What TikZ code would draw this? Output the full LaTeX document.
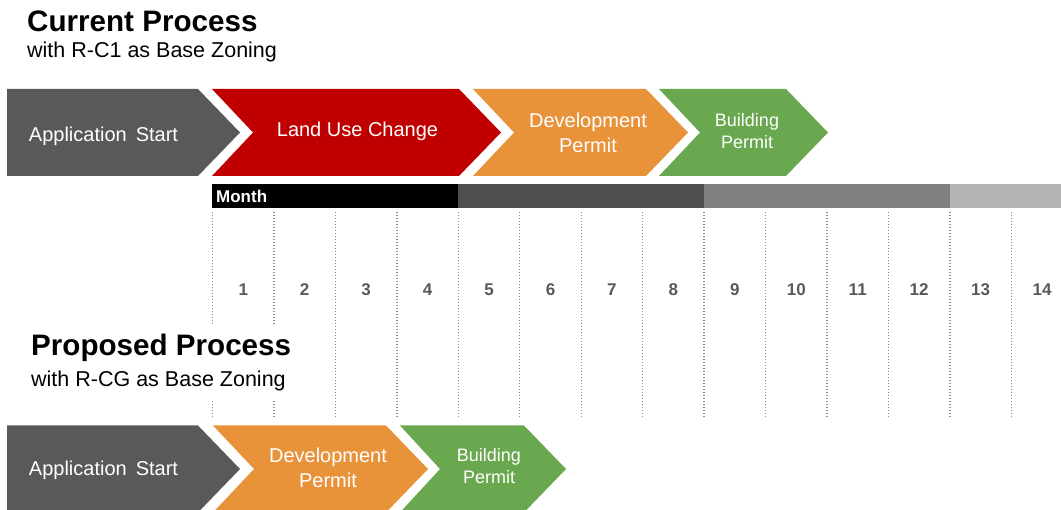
\documentclass[tikz,border=0pt]{standalone}
\usepackage{fontspec}
\setmainfont{Liberation Sans}
\usetikzlibrary{backgrounds}
\usetikzlibrary{fit}
\definecolor{startgray}{HTML}{595959}
\definecolor{lucred}{HTML}{C00000}
\definecolor{devorange}{HTML}{E8923A}
\definecolor{bpgreen}{HTML}{6AA84F}
\definecolor{bardark}{HTML}{4F4F4F}
\definecolor{barmid}{HTML}{808080}
\definecolor{barlight}{HTML}{B3B3B3}
\tikzset{heading/.style={font=\fontsize{29.6}{34}\selectfont\bfseries, anchor=base west, inner sep=0pt}}
\tikzset{subheading/.style={font=\fontsize{21.5}{25}\selectfont, anchor=base west, inner sep=0pt}}
\tikzset{chevtext/.style={text=white, font=\fontsize{20}{25}\selectfont, align=center, inner sep=0pt}}
\tikzset{chevsmall/.style={chevtext, font=\fontsize{18}{22}\selectfont}}
\tikzset{monthnum/.style={text=startgray, font=\fontsize{17}{20}\selectfont\bfseries, inner sep=0pt}}
\tikzset{gridline/.style={draw=black!45, line width=1.3pt, dash pattern=on 1.3pt off 1.7pt}}
% colour, left x, notch depth, right x, mid y
\newcommand{\chevron}[5]{%
  \fill[#1] (#2,#5-43.5) -- (#4,#5-43.5) -- (#4+42,#5) -- (#4,#5+43.5)
    -- (#2,#5+43.5) -- (#2+#3,#5) -- cycle;}

\begin{document}
\begin{tikzpicture}[x=1pt, y=-1pt]
\useasboundingbox (0,0) rectangle (1061,510);

% current process
\node[heading] (cur) at (27,32) {Current Process};
\node[subheading] (cursub) at (27,58) {with R-C1 as Base Zoning};

\chevron{startgray}{7}{0}{198}{132.5}
\chevron{lucred}{212}{41}{459}{132.5}
\chevron{devorange}{473}{41}{646}{132.5}
\chevron{bpgreen}{659}{41}{786}{132.5}
\node[chevtext, anchor=base] (curstart) at (103.5,141.5) {Application\hspace{0.45em}Start};
\node[chevtext, anchor=base] (curluc) at (357.5,137) {Land Use Change};
\node[chevtext] (curdev) at (588,133) {Development\\Permit};
\node[chevsmall] (curbp) at (747,131.5) {Building\\Permit};

% month bar
\fill[black] (212,184) rectangle (458,208);
\fill[bardark] (458,184) rectangle (704,208);
\fill[barmid] (704,184) rectangle (950,208);
\fill[barlight] (950,184) rectangle (1061,208);
\node[text=white, font=\fontsize{17}{20}\selectfont\bfseries, anchor=base west, inner sep=0pt] (month) at (216,203) {Month};

\foreach \i in {1,...,14}
  {
 \pgfmathsetmacro{\x}{212.5+61.45*(\i-0.5)}
 \node[monthnum] (m\i) at (\x,290) {\i};
 }

% proposed process
\node[heading] (prop) at (31,356) {Proposed Process};
\node[subheading] (propsub) at (31,387) {with R-CG as Base Zoning};

\begin{pgfonlayer}{background}
\foreach \i in {0,...,13}
  {
 \pgfmathsetmacro{\x}{212.5+61.45*\i}
 \draw[gridline] (\x,212) -- (\x,417);
 }
\node[fit=(prop)(propsub), fill=white, inner xsep=2pt, inner ysep=8pt] (propbox) {};
\end{pgfonlayer}

\chevron{startgray}{7}{0}{198}{469}
\chevron{devorange}{213}{41}{386}{469}
\chevron{bpgreen}{400}{40}{524}{469}
\node[chevtext, anchor=base] (propstart) at (103.5,476) {Application\hspace{0.45em}Start};
\node[chevtext] (propdev) at (328,468) {Development\\Permit};
\node[chevsmall] (propbp) at (489,466.5) {Building\\Permit};

\end{tikzpicture}
\end{document}
